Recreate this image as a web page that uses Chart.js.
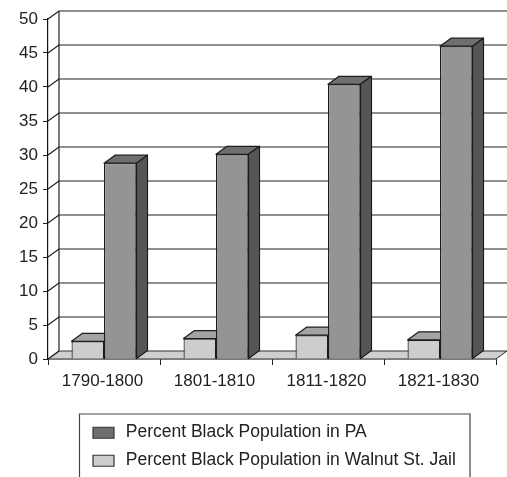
<!DOCTYPE html>
<html>
<head>
<meta charset="utf-8">
<style>
  html, body { margin: 0; padding: 0; background: #fff; }
  #wrap { position: relative; width: 507px; height: 477px; }
</style>
<script src="https://cdn.jsdelivr.net/npm/chart.js@4/dist/chart.umd.min.js"></script>
</head>
<body>
<div id="wrap"><canvas id="c" width="507" height="477"></canvas></div>
<script>
const periods = ['1790-1800', '1801-1810', '1811-1820', '1821-1830'];
const jailShare = [2.6, 3.0, 3.5, 2.8];
const stateShare = [28.8, 30.1, 40.4, 46.0];
const jailLabel = 'Percent Black Population in Walnut St. Jail';
const stateLabel = 'Percent Black Population in PA';

// Depth of the pseudo-3D projection, in pixels
const DX = 11, DY = -8;
const FONT = '"Liberation Sans", Arial, sans-serif';
const INK = '#1c1c1c';
const SWATCH = { [jailLabel]: '#cdcdcd', [stateLabel]: '#6f6f6f' };

function poly(ctx, pts, fill, stroke, lw) {
  ctx.beginPath();
  pts.forEach((p, i) => i ? ctx.lineTo(p[0], p[1]) : ctx.moveTo(p[0], p[1]));
  ctx.closePath();
  if (fill) { ctx.fillStyle = fill; ctx.fill(); }
  if (stroke) { ctx.strokeStyle = stroke; ctx.lineWidth = lw || 1; ctx.stroke(); }
}

// Floor, back wall gridlines, slanted tick stubs, then the top and side
// faces of every bar; the front faces are painted over these by the library
const depthPlugin = {
  id: 'depth',
  beforeDatasetsDraw(chart) {
    const { ctx, chartArea: a, scales: { y } } = chart;
    ctx.save();
    ctx.lineJoin = 'round';
    const y0 = y.getPixelForValue(0);
    poly(ctx, [[a.left, y0], [a.right, y0], [a.right + DX, y0 + DY], [a.left + DX, y0 + DY]], '#cfcfcf', '#333', 1);
    ctx.strokeStyle = '#222';
    ctx.lineWidth = 1.2;
    y.ticks.forEach(t => {
      const py = y.getPixelForValue(t.value);
      ctx.beginPath();
      ctx.moveTo(a.left, py);
      ctx.lineTo(a.left + DX, py + DY);
      if (t.value > 0) ctx.lineTo(a.right + DX, py + DY);
      ctx.stroke();
    });
    ctx.beginPath();
    ctx.moveTo(a.left + DX, y0 + DY);
    ctx.lineTo(a.left + DX, y.getPixelForValue(50) + DY);
    ctx.stroke();

    const shades = [{ top: '#a3a3a3', side: '#8f8f8f' }, { top: '#6f6f6f', side: '#565656' }];
    chart.data.datasets.forEach((d, i) => {
      chart.getDatasetMeta(i).data.forEach(bar => {
        const p = bar.getProps(['x', 'y', 'base', 'width'], true);
        const l = p.x - p.width / 2, r = p.x + p.width / 2;
        poly(ctx, [[l, p.y], [r, p.y], [r + DX, p.y + DY], [l + DX, p.y + DY]], shades[i].top, INK, 1.2);
        poly(ctx, [[r, p.y], [r + DX, p.y + DY], [r + DX, p.base + DY], [r, p.base]], shades[i].side, INK, 1.2);
      });
    });
    ctx.restore();
  }
};

// Places the vertical legend under the axis, adds its swatches and the open-bottomed frame
const legendFrame = {
  id: 'legendFrame',
  afterLayout(chart) {
    const lg = chart.legend;
    const w = lg.width, h = lg.height;
    lg.left = 82.5; lg.right = 82.5 + w;
    lg.top = 413; lg.bottom = 413 + h;
  },
  afterDraw(chart) {
    const { ctx } = chart;
    const lg = chart.legend;
    ctx.save();
    lg.legendItems.forEach((item, i) => {
      const cy = lg.top + lg.options.labels.padding + 8.75 + i * 28;
      poly(ctx, [[93, cy - 5], [114, cy - 5], [114, cy + 6], [93, cy + 6]], SWATCH[item.text], '#333', 1.2);
    });
    ctx.strokeStyle = '#444';
    ctx.lineWidth = 1.2;
    ctx.beginPath();
    ctx.moveTo(79.5, 477);
    ctx.lineTo(79.5, 414);
    ctx.lineTo(470, 414);
    ctx.lineTo(470, 477);
    ctx.stroke();
    ctx.restore();
  }
};

new Chart(document.getElementById('c'), {
  type: 'bar',
  data: {
    labels: periods,
    datasets: [
      { label: jailLabel, data: jailShare, backgroundColor: '#cdcdcd', borderColor: INK, borderWidth: 1.2 },
      { label: stateLabel, data: stateShare, backgroundColor: '#949494', borderColor: INK, borderWidth: 1.2 }
    ]
  },
  plugins: [depthPlugin, legendFrame],
  options: {
    responsive: false,
    animation: false,
    devicePixelRatio: 1,
    layout: { padding: { left: 0, right: 11, top: 19, bottom: 78 } },
    datasets: { bar: { categoryPercentage: 0.58, barPercentage: 1 } },
    scales: {
      x: {
        afterFit(s) { s.height = 40; },
        grid: { drawOnChartArea: false, drawTicks: true, tickLength: 6, color: '#222', offset: true },
        border: { color: '#111', width: 1.2 },
        ticks: { color: '#222', font: { family: FONT, size: 17 }, padding: 6, labelOffset: -1.5, maxRotation: 0 }
      },
      y: {
        min: 0, max: 50,
        afterFit(s) { s.width = 48; },
        grid: { drawOnChartArea: false, drawTicks: true, tickLength: 5, color: '#222' },
        border: { color: '#111', width: 1.2 },
        ticks: { stepSize: 5, color: '#222', font: { family: FONT, size: 17 }, padding: 5, labelOffset: 0.5 }
      }
    },
    plugins: {
      tooltip: { enabled: false },
      title: { display: false },
      legend: {
        position: 'chartArea',
        align: 'start',
        reverse: true,
        labels: {
          color: '#222',
          font: { family: FONT, size: 17.5 },
          boxWidth: 24, boxHeight: 11, padding: 10.5,
          generateLabels(chart) {
            return chart.data.datasets.map((d, i) => ({
              text: d.label, fillStyle: 'rgba(0,0,0,0)', strokeStyle: 'rgba(0,0,0,0)', lineWidth: 0, datasetIndex: i, fontColor: '#222'
            }));
          }
        }
      }
    }
  }
});
</script>
</body>
</html>
